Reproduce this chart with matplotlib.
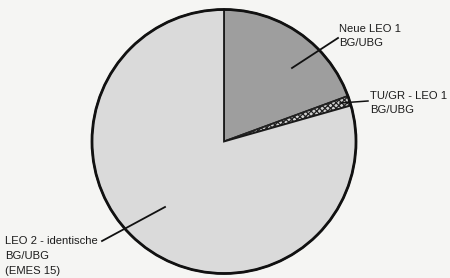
import matplotlib.pyplot as plt
import matplotlib as mpl

mpl.rcParams['hatch.linewidth'] = 0.9
mpl.rcParams['font.family'] = ['Liberation Sans', 'DejaVu Sans']

# share of each group (degrees -> percent)
labels = ['Neue LEO 1\nBG/UBG', 'TU/GR - LEO 1\nBG/UBG', 'LEO 2 - identische\nBG/UBG\n(EMES 15)']
shares = [19.4, 1.2, 79.4]
colors = ['#9e9e9e', '#d0d0d0', '#dadada']
hatches = ['', 'xxxxxx', '']

fig = plt.figure(figsize=(4.5, 2.78), dpi=100)
fig.patch.set_facecolor('#f5f5f3')
ax = fig.add_axes([0, 0, 1, 1])

cx, cy, r = 224, 278 - 141.5, 132
wedges, _ = ax.pie(shares, colors=colors, startangle=90, counterclock=False,
                   center=(cx, cy), radius=r, frame=True,
                   wedgeprops=dict(edgecolor='#1a1a1a', linewidth=1.3))
for w, h in zip(wedges, hatches):
    if h:
        w.set_hatch(h)
        w.set_edgecolor('#222222')
ax.set_xlim(0, 450)
ax.set_ylim(0, 278)
ax.set_aspect('equal')
ax.axis('off')

# outer rim drawn thicker, like the print
rim = plt.Circle((cx, cy), r, fill=False, edgecolor='#111111', linewidth=2.0, zorder=5)
ax.add_patch(rim)

tk = dict(fontsize=8.1, color='#1c1c1c', va='center', ha='left', linespacing=1.6)

# labels with leader lines (image coords -> y flipped)
def Y(v):
    return 278 - v

ax.text(339, Y(36), labels[0], **tk)
ax.plot([292, 338], [Y(68), Y(38)], color='#111111', lw=1.3, zorder=6)

ax.text(370, Y(103), labels[1], **tk)
ax.plot([340, 368], [Y(103), Y(101)], color='#111111', lw=1.1, zorder=6)

ax.text(5, Y(256), labels[2], **tk)
ax.plot([102, 165], [Y(241), Y(207)], color='#111111', lw=1.3, zorder=6)

fig.savefig('out.png', dpi=100, facecolor=fig.get_facecolor())
